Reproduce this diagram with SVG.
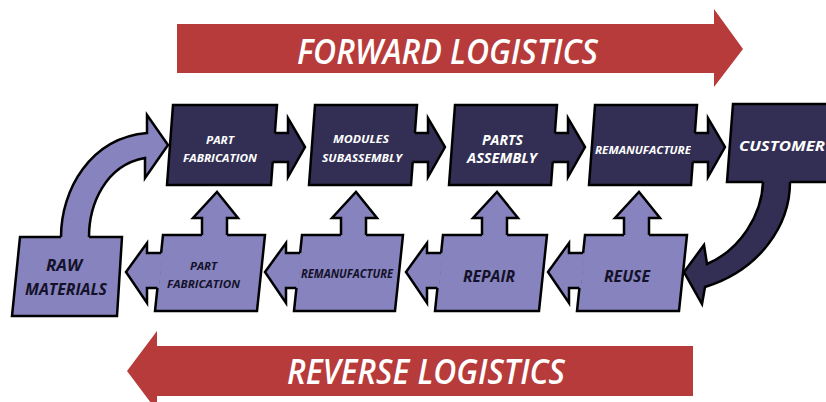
<svg xmlns="http://www.w3.org/2000/svg" width="826" height="402" viewBox="0 0 826 402">
<style>
.dk{fill:#332F54;stroke:#000;stroke-width:2.5;stroke-linejoin:miter}
.lt{fill:#8783BE;stroke:#000;stroke-width:2.5;stroke-linejoin:miter}
.dkf{fill:#332F54;stroke:none}
.ltf{fill:#8783BE;stroke:none}
.dke{fill:none;stroke:#000;stroke-width:2.5;stroke-linejoin:miter}
.red{fill:#B73B3B}
.t{font-family:"Open Sans","Liberation Sans",sans-serif;font-style:italic;font-weight:bold}
.w{fill:#fff}
.k{fill:#14122A}
.big{font-family:"Open Sans","Liberation Sans",sans-serif;font-style:italic;font-weight:600;font-size:35px;fill:#fff}
</style>
<rect width="826" height="402" fill="#fff"/>
<g id="forward-logistics">
<path class="red" d="M177,24 L714,24 L714,9 L743,49 L714,87 L714,73 L177,73 Z"/>
<text class="big" x="297" y="64" textLength="301" lengthAdjust="spacingAndGlyphs">FORWARD LOGISTICS</text>
</g>
<g id="reverse-logistics">
<path class="red" d="M693,346 L157,346 L157,331 L127,371 L157,411 L157,396 L693,396 Z"/>
<text class="big" x="287" y="384" textLength="278" lengthAdjust="spacingAndGlyphs">REVERSE LOGISTICS</text>
</g>
<g id="nodes">
<g id="part-fabrication-f">
<path class="dk" d="M173,105 L277,105 L271,185 L167,185 Z"/>
<text class="t w" font-size="11" x="206" y="144" textLength="28" lengthAdjust="spacingAndGlyphs">PART</text>
<text class="t w" font-size="11" x="183" y="162" textLength="74" lengthAdjust="spacingAndGlyphs">FABRICATION</text>
</g>
<g id="modules-subassembly">
<path class="dk" d="M315,105 L417,105 L411,185 L309,185 Z"/>
<text class="t w" font-size="11" x="333" y="143" textLength="56" lengthAdjust="spacingAndGlyphs">MODULES</text>
<text class="t w" font-size="11" x="322" y="162" textLength="80" lengthAdjust="spacingAndGlyphs">SUBASSEMBLY</text>
</g>
<g id="parts-assembly">
<path class="dk" d="M455,105 L557,105 L551,185 L449,185 Z"/>
<text class="t w" font-size="14.5" x="482" y="145" textLength="41" lengthAdjust="spacingAndGlyphs">PARTS</text>
<text class="t w" font-size="14.5" x="467" y="163" textLength="70" lengthAdjust="spacingAndGlyphs">ASSEMBLY</text>
</g>
<g id="remanufacture-f">
<path class="dk" d="M595,105 L697,105 L691,185 L589,185 Z"/>
<text class="t w" font-size="10" x="595" y="154" textLength="96" lengthAdjust="spacingAndGlyphs">REMANUFACTURE</text>
</g>
<g id="customer">
<path class="dk" d="M733,104 L840,104 L840,182 L727,182 Z"/>
<text class="t w" font-size="15" x="739" y="151" textLength="86" lengthAdjust="spacingAndGlyphs">CUSTOMER</text>
</g>
<g id="raw-materials">
<path class="lt" d="M20,237 L122,237 L117,316 L12,316 Z"/>
<text class="t k" font-size="16" x="46" y="271" textLength="36" lengthAdjust="spacingAndGlyphs">RAW</text>
<text class="t k" font-size="16" x="25" y="295" textLength="82" lengthAdjust="spacingAndGlyphs">MATERIALS</text>
</g>
<g id="part-fabrication-r">
<path class="lt" d="M163,235 L265,235 L257,311 L155,311 Z"/>
<text class="t k" font-size="11" x="190" y="270" textLength="27" lengthAdjust="spacingAndGlyphs">PART</text>
<text class="t k" font-size="11" x="167" y="288" textLength="73" lengthAdjust="spacingAndGlyphs">FABRICATION</text>
</g>
<g id="remanufacture-r">
<path class="lt" d="M302,235 L403,235 L395,311 L294,311 Z"/>
<text class="t k" font-size="11.5" x="301" y="278" textLength="92" lengthAdjust="spacingAndGlyphs">REMANUFACTURE</text>
</g>
<g id="repair">
<path class="lt" d="M443,235 L547,235 L539,311 L435,311 Z"/>
<text class="t k" font-size="16" x="463" y="282" textLength="52" lengthAdjust="spacingAndGlyphs">REPAIR</text>
</g>
<g id="reuse">
<path class="lt" d="M585,235 L687,235 L679,311 L577,311 Z"/>
<text class="t k" font-size="16" x="604" y="282" textLength="46" lengthAdjust="spacingAndGlyphs">REUSE</text>
</g>
</g>
<g id="connectors">
<g>
<path class="dkf" d="M272,133 L288,133 L288,118 L305,147 L288,177 L288,162 L270,162 Z"/>
<path class="dke" d="M274.9,133 L288,133 L288,118 L305,147 L288,177 L288,162 L272.7,162"/>
</g>
<g>
<path class="dkf" d="M412,133 L428,133 L428,118 L445,147 L428,177 L428,162 L410,162 Z"/>
<path class="dke" d="M414.9,133 L428,133 L428,118 L445,147 L428,177 L428,162 L412.7,162"/>
</g>
<g>
<path class="dkf" d="M552,133 L568,133 L568,118 L585,147 L568,177 L568,162 L550,162 Z"/>
<path class="dke" d="M554.9,133 L568,133 L568,118 L585,147 L568,177 L568,162 L552.7,162"/>
</g>
<g>
<path class="dkf" d="M692,133 L708,133 L708,118 L725,147 L708,177 L708,162 L690,162 Z"/>
<path class="dke" d="M694.9,133 L708,133 L708,118 L725,147 L708,177 L708,162 L692.7,162"/>
</g>
<g>
<path class="dkf" d="M763,179 L763,182 C762,215 740,250 707,264 L704,245 L684,272 L702,304 L705,287 C760,270 790,225 790,182 L790,179 Z"/>
<path class="dke" d="M763,182 C762,215 740,250 707,264 L704,245 L684,272 L702,304 L705,287 C760,270 790,225 790,182"/>
</g>
<g>
<path class="ltf" d="M61,240 L61,237 C61,190 90,138 147,133 L147,115 L168,145 L145,178 L145,158 C105,165 89,205 89,237 L89,240 Z"/>
<path class="dke" d="M61,237 C61,190 90,138 147,133 L147,115 L168,145 L145,178 L145,158 C105,165 89,205 89,237"/>
</g>
<g>
<path class="ltf" d="M163,253 L147,253 L147,243 L126,272 L147,303 L147,288 L159,288 Z"/>
<path class="dke" d="M161.1,253 L147,253 L147,243 L126,272 L147,303 L147,288 L157.3,288"/>
</g>
<g>
<path class="ltf" d="M302,253 L286,253 L286,243 L265,272 L286,303 L286,288 L298,288 Z"/>
<path class="dke" d="M300.1,253 L286,253 L286,243 L265,272 L286,303 L286,288 L296.3,288"/>
</g>
<g>
<path class="ltf" d="M443,253 L427,253 L427,243 L406,272 L427,303 L427,288 L439,288 Z"/>
<path class="dke" d="M441.1,253 L427,253 L427,243 L406,272 L427,303 L427,288 L437.3,288"/>
</g>
<g>
<path class="ltf" d="M585,253 L569,253 L569,243 L548,272 L569,303 L569,288 L581,288 Z"/>
<path class="dke" d="M583.1,253 L569,253 L569,243 L548,272 L569,303 L569,288 L579.3,288"/>
</g>
<g>
<path class="ltf" d="M202,238 L202,218 L193,218 L217,192 L238,218 L227,218 L227,238 Z"/>
<path class="dke" d="M202,235 L202,218 L193,218 L217,192 L238,218 L227,218 L227,235"/>
</g>
<g>
<path class="ltf" d="M341,238 L341,218 L332,218 L356,192 L377,218 L366,218 L366,238 Z"/>
<path class="dke" d="M341,235 L341,218 L332,218 L356,192 L377,218 L366,218 L366,235"/>
</g>
<g>
<path class="ltf" d="M482,238 L482,218 L473,218 L497,192 L518,218 L507,218 L507,238 Z"/>
<path class="dke" d="M482,235 L482,218 L473,218 L497,192 L518,218 L507,218 L507,235"/>
</g>
<g>
<path class="ltf" d="M624,238 L624,218 L615,218 L639,192 L660,218 L649,218 L649,238 Z"/>
<path class="dke" d="M624,235 L624,218 L615,218 L639,192 L660,218 L649,218 L649,235"/>
</g>
</g>
</svg>
